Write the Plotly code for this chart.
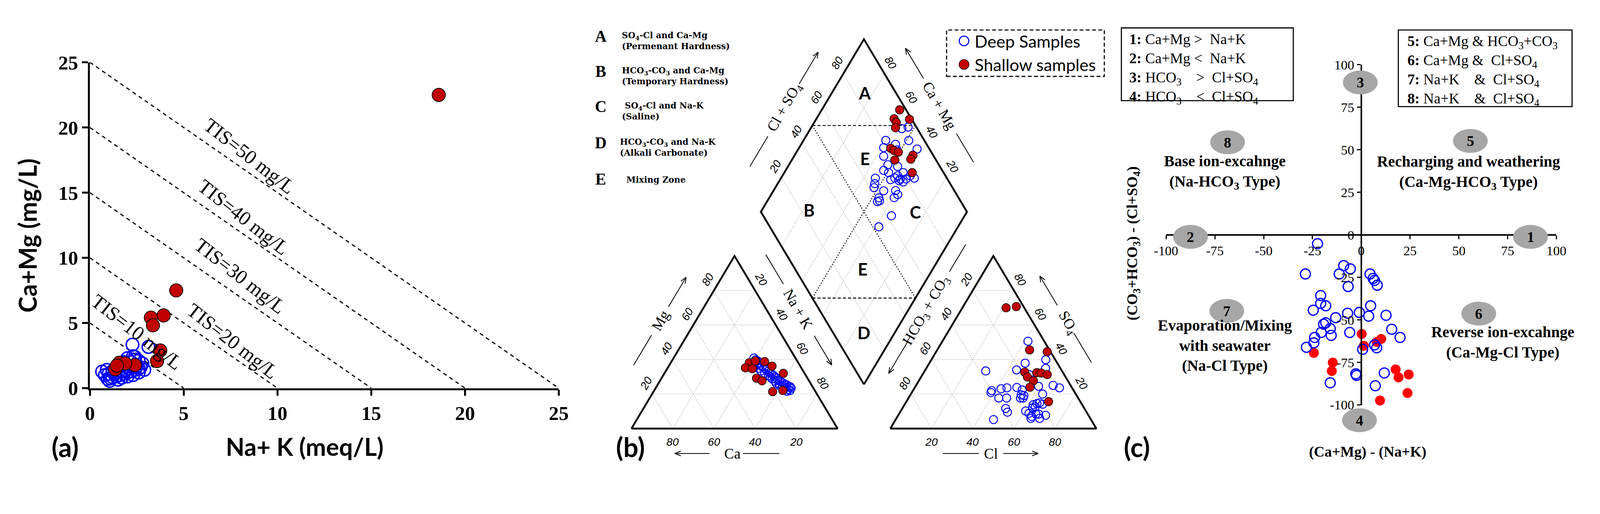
import numpy as np
import plotly.graph_objects as go

# Reference frame is 4342x1317; the page viewport is rendered ~4096 css px wide with 8px body margin.
REF_W, REF_H = 4342, 1317
SC = 4096 / 4342
OFF = 8
WF, HF = 4088, 1234
SERIF = "Liberation Serif"
SANS = "Lato"
BLUE = "#0000ff"
DARKRED = "#c00000"
RED = "#ff0000"

# ======================= DATA =======================
# ---- Panel (a): Na+K vs Ca+Mg ----
a_deep_nak = [0.65, 0.80, 0.95, 1.05, 1.20, 1.30, 1.40, 1.50, 1.60, 1.70, 1.80, 1.90, 2.00, 2.10, 2.20,
              2.30, 2.40, 2.50, 2.60, 2.70, 2.20, 2.40, 2.00, 1.80, 1.60, 1.40, 1.20, 1.00, 2.80, 2.60,
              2.30, 1.90, 1.70, 2.00, 2.30, 2.60, 2.90, 2.27, 3.12, 1.50, 2.40, 1.10, 0.90]
a_deep_camg = [1.27, 1.00, 0.70, 0.55, 0.85, 1.10, 0.90, 1.20, 1.00, 1.30, 1.10, 1.40, 1.20, 1.50, 1.30,
               1.60, 1.40, 1.70, 1.50, 1.60, 2.00, 2.20, 2.30, 2.00, 1.70, 1.50, 1.30, 1.10, 1.90, 2.10,
               2.45, 1.70, 0.80, 0.90, 1.00, 1.20, 1.40, 3.34, 3.16, 0.65, 2.40, 0.75, 1.40]
a_shal_nak = [18.6, 4.6, 3.93, 3.25, 3.36, 3.75, 3.58, 2.40, 1.57, 1.35, 1.88, 1.44]
a_shal_camg = [22.5, 7.5, 5.58, 5.41, 4.82, 2.89, 2.08, 1.77, 1.95, 1.45, 1.90, 1.73]
tis_totals = [5, 10, 15, 20, 25]
tis_labels = ["TIS=10 mg/L", "TIS=20 mg/L", "TIS=30 mg/L", "TIS=40 mg/L", "TIS=50 mg/L"]
tis_label_x = [2.5, 7.6, 8.0, 8.2, 8.5]
tis_label_y = [4.3, 3.6, 8.6, 13.1, 17.8]
a_ticks = [0, 5, 10, 15, 20, 25]

# ---- Panel (b): Piper diagram (percent of meq) ----
cat_deep_ca = [20.1, 19.8, 19.2, 18.9, 20.8, 19.1, 18.7, 20.9, 18.2, 17.7, 20.4, 17.3, 16.8, 19.3, 16.2,
               15.7, 18.2, 15.3, 14.8, 17.3, 14.9, 14.2, 16.6, 13.7, 13.1, 15.5, 12.6, 11.9, 14.2, 11.3,
               10.8, 13.0, 10.8, 12.6, 12.1, 13.7, 14.2, 15.6, 16.7, 17.6]
cat_deep_mg = [40.9, 39.9, 39.2, 38.1, 37.0, 36.7, 35.9, 34.9, 34.9, 34.2, 33.4, 33.1, 32.4, 32.0, 31.7,
               30.9, 30.6, 29.9, 29.2, 28.8, 28.1, 27.7, 27.4, 27.0, 26.3, 25.9, 25.6, 25.2, 24.9, 24.5,
               24.1, 23.8, 23.4, 22.7, 22.0, 21.6, 23.1, 24.9, 26.3, 29.9]
cat_deep_nak = [39.0, 40.3, 41.6, 43.0, 42.2, 44.2, 45.4, 44.2, 46.9, 48.1, 46.2, 49.6, 50.8, 48.7, 52.1,
                53.4, 51.2, 54.8, 56.0, 53.9, 57.0, 58.1, 56.0, 59.3, 60.6, 58.6, 61.8, 62.9, 60.9, 64.2,
                65.1, 63.2, 65.8, 64.7, 65.9, 64.7, 62.7, 59.5, 57.0, 52.5]
cat_shal_ca = [23.8, 20.3, 16.0, 27.1, 24.0, 13.7, 24.7, 22.8, 10.3, 20.8, 15.5]
cat_shal_mg = [38.1, 39.2, 38.8, 35.2, 34.7, 36.2, 29.2, 27.7, 32.0, 21.4, 22.1]
cat_shal_nak = [38.1, 40.5, 45.2, 37.7, 41.3, 50.1, 46.1, 49.5, 57.7, 57.8, 62.4]

an_deep_hco3 = [7.9, 15.6, 4.6, 7.2, 21.7, 37.0, 17.0, 39.8, 34.7, 31.6, 26.7, 24.8, 15.8, 8.5, 6.1,
                16.1, 38.5, 34.7, 26.7, 25.6, 28.0, 23.7, 21.6, 20.1, 19.0, 23.3, 25.0, 38.2, 38.4, 29.2,
                28.3, 27.9, 23.8, 20.8, 24.6, 28.8, 47.3, 40.7, 26.7, 25.1]
an_deep_so4 = [50.6, 37.9, 39.9, 34.9, 34.0, 33.4, 31.3, 22.0, 23.1, 23.6, 23.8, 22.4, 24.5, 25.0, 23.6,
               20.0, 17.7, 17.7, 19.5, 19.1, 17.7, 13.8, 14.5, 14.9, 14.1, 12.7, 12.0, 11.6, 9.5, 10.2,
               8.8, 7.0, 8.4, 7.7, 5.9, 5.9, 5.2, 20.9, 17.7, 8.4]
an_deep_cl = [41.5, 46.5, 55.5, 57.9, 44.3, 29.6, 51.7, 38.2, 42.2, 44.8, 49.5, 52.8, 59.7, 66.5, 70.3,
              63.9, 43.8, 47.6, 53.8, 55.3, 54.3, 62.5, 63.9, 65.0, 66.9, 64.0, 63.0, 50.2, 52.1, 60.6,
              62.9, 65.1, 67.8, 71.5, 69.5, 65.3, 47.5, 38.4, 55.6, 66.5]
an_shal_hco3 = [8.8, 3.5, 9.6, 1.6, 18.4, 18.5, 12.7, 10.7, 8.2, 16.7, 20.2, 15.4]
an_shal_so4 = [70.0, 70.7, 45.6, 44.5, 32.7, 29.9, 32.4, 32.2, 31.3, 27.7, 24.0, 15.6]
an_shal_cl = [21.2, 25.8, 44.8, 53.9, 48.9, 51.6, 54.9, 57.1, 60.5, 55.6, 55.8, 69.0]

dia_deep_camg = [55.7, 53.1, 60.1, 54.2, 48.9, 59.0, 56.5, 51.9, 42.4, 52.0, 52.4, 46.8, 42.3, 49.4, 44.8,
                 41.8, 39.1, 35.3, 54.2, 52.9, 52.1, 46.5, 40.8, 38.6, 39.4, 46.8, 46.4, 35.5, 38.4, 38.0,
                 42.0, 39.6, 45.6, 44.1, 46.3]
dia_deep_clso4 = [92.5, 96.0, 81.3, 84.9, 92.4, 78.2, 75.7, 84.0, 94.0, 75.3, 71.6, 79.5, 80.4, 73.3, 74.8,
                  77.2, 79.9, 84.2, 65.3, 63.4, 61.9, 65.7, 71.5, 71.4, 68.8, 61.3, 59.5, 62.2, 52.9, 82.9,
                  76.1, 77.7, 60.8, 76.8, 72.3]
dia_shal_camg = [62.2, 62.3, 60.2, 54.7, 59.0, 55.4, 53.1, 50.6, 42.6, 42.5, 50.0, 37.9]
dia_shal_clso4 = [96.9, 91.6, 91.6, 98.9, 89.7, 81.4, 82.4, 84.0, 90.2, 88.0, 80.0, 84.8]

piper_ticks = [20, 40, 60, 80]
region_letters = ["A", "E", "B", "C", "E", "D"]
region_camg = [84, 65, 77, 25, 34, 15]
region_clso4 = [85, 66, 24, 75, 33, 15]

# ---- Panel (c): Chadha diagram ----
c_deep_x = [-22.4, -28.6, -9.0, -5.6, -11.3, -6.7, 4.5, 6.1, 6.8, 8.2, -20.8, -20.8, -18.2, -24.6, 4.8,
            -7.0, -1.0, 3.8, 12.7, -13.1, -18.2, -19.3, -15.9, -20.5, -15.4, -5.9, -23.9, -24.3, -28.1, 15.6,
            19.9, 6.8, 7.9, 0.7, -2.8, -2.4, -15.9, 11.8, 7.2]
c_deep_y = [-5.2, -23.0, -18.1, -20.0, -23.0, -30.4, -23.0, -25.6, -26.8, -29.6, -35.7, -40.3, -41.7, -44.3, -41.7,
            -46.1, -45.6, -47.8, -47.3, -48.7, -51.7, -52.5, -55.1, -57.4, -59.1, -57.4, -60.3, -63.5, -66.1, -55.5,
            -60.3, -64.7, -66.4, -67.3, -81.7, -82.6, -87.0, -81.2, -88.7]
c_shal_x = [0.2, 10.2, 7.9, 1.3, -24.3, -14.6, -15.1, 17.6, 19.1, 24.3, 23.7, 9.6]
c_shal_y = [-58.3, -61.2, -63.0, -65.2, -69.4, -75.1, -80.0, -79.1, -83.8, -82.1, -93.0, -97.4]
c_ticks = [-100, -75, -50, -25, 0, 25, 50, 75, 100]
ell_labels = ["1", "2", "3", "4", "5", "6", "7", "8"]
ell_x = [86.7, -87.5, -0.5, -0.9, 55.9, 60.2, -68.9, -68.5]
ell_y = [-1.2, -1.2, 89.6, -109.0, 55.2, -46.3, -44.7, 54.4]


# ======================= HELPERS =======================
def fx(p):
    """reference-pixel x -> paper fraction"""
    return (p * SC - OFF) / WF


def fy(p):
    """reference-pixel y (from top) -> paper fraction"""
    return 1 - (p * SC - OFF) / HF


def S(v):
    return v * SC


def font(family, size, **kw):
    d = dict(family=family, size=S(size), color="black")
    d.update(kw)
    return d


def A(**kw):
    d = dict(showarrow=False, xanchor="center", yanchor="middle")
    d.update(kw)
    return d


fig = go.Figure()
ann = []
shapes = []

# ======================= PANEL (a) =======================
A_L, A_R, A_B, A_T = 214, 1504, 1074, 147
for tot in tis_totals:
    fig.add_trace(go.Scatter(x=[0, tot], y=[tot, 0], mode="lines",
                             line=dict(color="black", width=S(3.2), dash="10px,9px"),
                             xaxis="x", yaxis="y", hoverinfo="skip", showlegend=False))
for lx, ly, lt in zip(tis_label_x, tis_label_y, tis_labels):
    ann.append(A(x=lx, y=ly, xref="x", yref="y", text=lt, textangle=38, font=font(SERIF, 54)))
fig.add_trace(go.Scatter(x=a_deep_nak, y=a_deep_camg, mode="markers", xaxis="x", yaxis="y",
                         marker=dict(symbol="circle-open", size=S(34), color=BLUE, line=dict(width=S(4))),
                         cliponaxis=False, showlegend=False))
fig.add_trace(go.Scatter(x=a_shal_nak, y=a_shal_camg, mode="markers", xaxis="x", yaxis="y",
                         marker=dict(symbol="circle", size=S(36), color=DARKRED,
                                     line=dict(width=S(2), color="black")),
                         cliponaxis=False, showlegend=False))
ann.append(A(x=fx(805), y=fy(1240), xref="paper", yref="paper", text="Na+ K (meq/L)",
             font=font(SANS, 66, weight="bold")))
ann.append(A(x=fx(42), y=fy(640), xref="paper", yref="paper", text="Ca+Mg (mg/L)",
             textangle=-90, font=font(SANS, 66, weight="bold")))
ann.append(A(x=fx(145), y=fy(1240), xref="paper", yref="paper", text="(a)", font=font(SANS, 72, weight="bold")))

# ======================= PANEL (b) =======================
P0X, P0Y, SIDE = 1704, 1189, 567
S3 = np.sqrt(3) / 2
G = 0.256
BX0, BX1, BY_TOP, BY_BOT = 1560, 3040, 20, 1300


def u_of(px):
    return (px - P0X) / SIDE


def v_of(py):
    return (P0Y - py) / SIDE


def cat_xy(ca, mg, nak):
    ca, mg, nak = (np.asarray(v, dtype=float) for v in (ca, mg, nak))
    tot = ca + mg + nak
    m, n = mg / tot, nak / tot
    return n + m / 2, m * S3


def an_xy(hco3, so4, cl):
    hco3, so4, cl = (np.asarray(v, dtype=float) for v in (hco3, so4, cl))
    tot = hco3 + so4 + cl
    s, c = so4 / tot, cl / tot
    return 1 + G + c + s / 2, s * S3


def dia_xy(camg, clso4):
    a = np.asarray(camg, dtype=float) / 100
    c = np.asarray(clso4, dtype=float) / 100
    return 1 + G / 2 + 0.5 * (c - a), G * S3 + S3 * (c + a)


def seg_trace(segs, **line):
    xs, ys = [], []
    for (x0, y0), (x1, y1) in segs:
        xs += [float(x0), float(x1), None]
        ys += [float(y0), float(y1), None]
    return go.Scatter(x=xs, y=ys, mode="lines", line=line, xaxis="x2", yaxis="y2",
                      hoverinfo="skip", showlegend=False, cliponaxis=False)


diag_segs, horiz_segs = [], []
for k in piper_ticks:
    horiz_segs.append((cat_xy(100 - k, k, 0), cat_xy(0, k, 100 - k)))
    diag_segs.append((cat_xy(100 - k, 0, k), cat_xy(0, 100 - k, k)))
    diag_segs.append((cat_xy(k, 0, 100 - k), cat_xy(k, 100 - k, 0)))
    horiz_segs.append((an_xy(100 - k, k, 0), an_xy(0, k, 100 - k)))
    diag_segs.append((an_xy(100 - k, 0, k), an_xy(0, 100 - k, k)))
    diag_segs.append((an_xy(k, 0, 100 - k), an_xy(k, 100 - k, 0)))
    diag_segs.append((dia_xy(k, 0), dia_xy(k, 100)))
    diag_segs.append((dia_xy(0, k), dia_xy(100, k)))
fig.add_trace(seg_trace(horiz_segs, color="#e2e2e2", width=S(2)))
fig.add_trace(seg_trace(diag_segs, color="#b0b0b0", width=S(1.5), dash="3px,3px"))

fig.add_trace(seg_trace([(dia_xy(100, 50), dia_xy(50, 100)), (dia_xy(50, 0), dia_xy(0, 50))],
                        color="black", width=S(2.5), dash="8px,5px"))
fig.add_trace(seg_trace([(dia_xy(100, 50), dia_xy(0, 50)), (dia_xy(50, 100), dia_xy(50, 0))],
                        color="black", width=S(2.5), dash="3px,4px"))


def closed(pts):
    xs = [float(p[0]) for p in pts] + [float(pts[0][0])]
    ys = [float(p[1]) for p in pts] + [float(pts[0][1])]
    return go.Scatter(x=xs, y=ys, mode="lines", line=dict(color="black", width=S(5)), xaxis="x2", yaxis="y2",
                      hoverinfo="skip", showlegend=False, cliponaxis=False)


fig.add_trace(closed([cat_xy(100, 0, 0), cat_xy(0, 0, 100), cat_xy(0, 100, 0)]))
fig.add_trace(closed([an_xy(100, 0, 0), an_xy(0, 0, 100), an_xy(0, 100, 0)]))
fig.add_trace(closed([dia_xy(0, 0), dia_xy(0, 100), dia_xy(100, 100), dia_xy(100, 0)]))

deep_m = dict(symbol="circle-open", size=S(22), color=BLUE, line=dict(width=S(2.5)))
shal_m = dict(symbol="circle", size=S(23), color=DARKRED, line=dict(width=S(1.5), color="black"))
for (fn, args_d, args_s) in [
    (cat_xy, (cat_deep_ca, cat_deep_mg, cat_deep_nak), (cat_shal_ca, cat_shal_mg, cat_shal_nak)),
    (an_xy, (an_deep_hco3, an_deep_so4, an_deep_cl), (an_shal_hco3, an_shal_so4, an_shal_cl)),
    (dia_xy, (dia_deep_camg, dia_deep_clso4), (dia_shal_camg, dia_shal_clso4)),
]:
    xd, yd = fn(*args_d)
    xs_, ys_ = fn(*args_s)
    fig.add_trace(go.Scatter(x=xd, y=yd, mode="markers", marker=deep_m, xaxis="x2", yaxis="y2",
                             showlegend=False, cliponaxis=False))
    fig.add_trace(go.Scatter(x=xs_, y=ys_, mode="markers", marker=shal_m, xaxis="x2", yaxis="y2",
                             showlegend=False, cliponaxis=False))

TF = font("Liberation Sans", 30)
for k in piper_ticks:
    spots = [
        (cat_xy(k, 0, 100 - k), (0, -0.067), 0),
        (cat_xy(100 - k, k, 0), (-0.03, 0.055), -60),
        (cat_xy(0, 100 - k, k), (0.03, 0.055), 60),
        (an_xy(100 - k, 0, k), (0, -0.067), 0),
        (an_xy(k, 100 - k, 0), (-0.03, 0.055), -60),
        (an_xy(0, k, 100 - k), (0.03, 0.055), 60),
        (dia_xy(100, k), (-0.03, 0.055), -60),
        (dia_xy(k, 100), (0.03, 0.055), 60),
    ]
    for (px_, py_), (dx, dy), ang in spots:
        d = A(x=float(px_) + dx, y=float(py_) + dy, xref="x2", yref="y2", text="<i>%d</i>" % k, font=TF)
        if ang:
            d["textangle"] = ang
        ann.append(d)

rx, ry = dia_xy(region_camg, region_clso4)
for L, x_, y_ in zip(region_letters, rx, ry):
    ann.append(A(x=float(x_), y=float(y_), xref="x2", yref="y2", text=L, font=font(SANS, 46, weight="bold")))

edges = {
    "cat_left": ((0, 0), (0.5, S3), (-S3, 0.5)),
    "cat_right": ((0.5, S3), (0.5, -S3), (S3, 0.5)),
    "cat_bottom": ((0, 0), (1, 0), (0, -1)),
    "an_left": ((1 + G, 0), (0.5, S3), (-S3, 0.5)),
    "an_right": ((2 + G, 0), (-0.5, S3), (S3, 0.5)),
    "an_bottom": ((1 + G, 0), (1, 0), (0, -1)),
    "dia_ul": ((0.5 + G / 2, (1 + G) * S3), (0.5, S3), (-S3, 0.5)),
    "dia_ur": ((1.5 + G / 2, (1 + G) * S3), (-0.5, S3), (S3, 0.5)),
}
titles = [
    ("cat_left", "Mg", -60, (0.28, 0.455), 0.54, (0.62, 0.79), 0.15),
    ("cat_right", "Na + K", 60, (0.07, 0.24), 0.385, (0.54, 0.71), 0.135),
    ("cat_bottom", "Ca", 0, (0.541, 0.718), 0.489, (0.379, 0.21), 0.125),
    ("an_left", "HCO<sub>3</sub> + CO<sub>3</sub>", -60, (0.825, 0.983), 0.60, (0.417, 0.236), 0.145),
    ("an_right", "SO<sub>4</sub>", 60, (0.30, 0.47), 0.53, (0.63, 0.80), 0.145),
    ("an_bottom", "Cl", 0, (0.254, 0.43), 0.489, (0.548, 0.718), 0.125),
    ("dia_ul", "Cl + SO<sub>4</sub>", -60, (0.17, 0.345), 0.512, (0.648, 0.833), 0.16),
    ("dia_ur", "Ca + Mg", 60, (0.20, 0.365), 0.527, (0.685, 0.86), 0.152),
]


def along(edge, t, n):
    (ox, oy), (dx, dy), (nx, ny) = edges[edge]
    return ox + dx * t + nx * n, oy + dy * t + ny * n


def arrow_segs(tail, head, L=0.032, ang=22):
    dx, dy = head[0] - tail[0], head[1] - tail[1]
    nn = np.hypot(dx, dy)
    dx, dy = dx / nn, dy / nn
    out = [(tail, head)]
    for sgn in (1, -1):
        a = np.radians(ang * sgn)
        rx_ = dx * np.cos(a) - dy * np.sin(a)
        ry_ = dx * np.sin(a) + dy * np.cos(a)
        out.append((head, (head[0] - L * rx_, head[1] - L * ry_)))
    return out


line_segs = []
for edge, txt, ang, (l0, l1), tt, (a0, a1), n in titles:
    line_segs.append((along(edge, l0, n), along(edge, l1, n)))
    line_segs += arrow_segs(along(edge, a0, n), along(edge, a1, n))
    tx, ty = along(edge, tt, n)
    d = A(x=tx, y=ty, xref="x2", yref="y2", text=txt, font=font(SERIF, 40))
    if ang:
        d["textangle"] = ang
    ann.append(d)
fig.add_trace(seg_trace(line_segs, color="black", width=S(2.2)))

# left text block of (b)
blk_letters = ["A", "B", "C", "D", "E"]
blk_y = [73, 173, 273, 376, 479]
blk_text = [
    ("SO<sub>4</sub>-Cl and Ca-Mg<br>(Permenant Hardness)", 1675, 86),
    ("HCO<sub>3</sub>-CO<sub>3</sub> and Ca-Mg<br>(Temporary Hardness)", 1675, 186),
    ("\u00a0SO<sub>4</sub>-Cl and Na-K<br>(Saline)", 1675, 286),
    ("HCO<sub>3</sub>-CO<sub>3</sub> and Na-K<br>(Alkali Carbonate)", 1670, 389),
    ("\u00a0Mixing Zone", 1680, 481),
]
for L, yy in zip(blk_letters, blk_y):
    ann.append(A(x=fx(1620), y=fy(yy), xref="paper", yref="paper", text="<b>%s</b>" % L, font=font(SERIF, 44)))
for txt, lx, ly in blk_text:
    ann.append(A(x=fx(lx), y=fy(ly), xref="paper", yref="paper", xanchor="left", align="left",
                 text="<b>%s</b>" % txt, font=font("DejaVu Serif", 23)))

# legend box of (b)
shapes.append(dict(type="rect", xref="paper", yref="paper", x0=fx(2571), x1=fx(3005), y0=fy(187), y1=fy(55),
                   line=dict(color="black", width=S(3), dash="10px,6px")))
fig.add_trace(go.Scatter(x=[u_of(2619)], y=[v_of(86)], mode="markers", xaxis="x2", yaxis="y2",
                         marker=dict(symbol="circle-open", size=S(26), color=BLUE, line=dict(width=S(3))),
                         showlegend=False, cliponaxis=False))
fig.add_trace(go.Scatter(x=[u_of(2619)], y=[v_of(153)], mode="markers", xaxis="x2", yaxis="y2",
                         marker=dict(symbol="circle", size=S(27), color=DARKRED,
                                     line=dict(width=S(1.5), color="black")),
                         showlegend=False, cliponaxis=False))
ann.append(A(x=fx(2646), y=fy(86), xref="paper", yref="paper", xanchor="left", text="Deep Samples",
             font=font(SANS, 46)))
ann.append(A(x=fx(2646), y=fy(153), xref="paper", yref="paper", xanchor="left", text="Shallow samples",
             font=font(SANS, 46)))
ann.append(A(x=fx(1701), y=fy(1240), xref="paper", yref="paper", text="(b)", font=font(SANS, 72, weight="bold")))

# ======================= PANEL (c) =======================
C_L, C_R, C_B, C_T = 3175, 4249, 1121.8, 153.8
C_X0PX = (C_L + C_R) / 2
C_Y0PX = (C_B + C_T) / 2


def cpx(x):
    return C_L + (x + 100) / 200 * (C_R - C_L)


def cpy(y):
    return C_B - (y + 100) / 200 * (C_B - C_T)


for lab, ex, ey in zip(ell_labels, ell_x, ell_y):
    cx, cy = cpx(ex), cpy(ey)
    shapes.append(dict(type="circle", xref="paper", yref="paper", x0=fx(cx - 48), x1=fx(cx + 48),
                       y0=fy(cy + 34), y1=fy(cy - 34), fillcolor="#a6a6a6", line=dict(width=0), layer="above"))
    ann.append(A(x=fx(cx), y=fy(cy), xref="paper", yref="paper", text="<b>%s</b>" % lab, font=font(SERIF, 40)))

fig.add_trace(go.Scatter(x=c_shal_x, y=c_shal_y, mode="markers", xaxis="x3", yaxis="y3",
                         marker=dict(symbol="circle", size=S(27), color=RED, line=dict(width=0)),
                         showlegend=False, cliponaxis=False))
fig.add_trace(go.Scatter(x=c_deep_x, y=c_deep_y, mode="markers", xaxis="x3", yaxis="y3",
                         marker=dict(symbol="circle-open", size=S(27), color=BLUE, line=dict(width=S(3.5))),
                         showlegend=False, cliponaxis=False))

quad_text = [
    ("Base ion-excahnge<br>(Na-HCO<sub>3</sub> Type)", -70.0, 36.7),
    ("Recharging and weathering<br>(Ca-Mg-HCO<sub>3</sub> Type)", 55.0, 36.6),
    ("Evaporation/Mixing<br>with seawater<br>(Na-Cl Type)", -69.9, -65.0),
    ("Reverse ion-excahnge<br>(Ca-Mg-Cl Type)", 72.5, -63.2),
]
for txt, qx, qy in quad_text:
    ann.append(A(x=qx, y=qy, xref="x3", yref="y3", text="<b>%s</b>" % txt, font=font(SERIF, 42)))

shapes.append(dict(type="rect", xref="paper", yref="paper", x0=fx(3052), x1=fx(3525), y0=fy(256), y1=fy(49),
                   line=dict(color="black", width=S(3))))
shapes.append(dict(type="rect", xref="paper", yref="paper", x0=fx(3814), x1=fx(4292), y0=fy(273), y1=fy(55),
                   line=dict(color="black", width=S(3))))
nb = "\u00a0"
box1 = "<br>".join([
    "<b>1:</b> Ca+Mg &gt;" + nb * 2 + "Na+K",
    "<b>2:</b> Ca+Mg &lt;" + nb * 2 + "Na+K",
    "<b>3:</b> HCO<sub>3</sub>" + nb * 4 + "&gt;" + nb * 2 + "Cl+SO<sub>4</sub>",
    "<b>4:</b> HCO<sub>3</sub>" + nb * 4 + "&lt;" + nb * 2 + "Cl+SO<sub>4</sub>",
])
box2 = "<br>".join([
    "<b>5:</b> Ca+Mg &amp; HCO<sub>3</sub>+CO<sub>3</sub>",
    "<b>6:</b> Ca+Mg &amp;" + nb * 2 + "Cl+SO<sub>4</sub>",
    "<b>7:</b> Na+K" + nb * 4 + "&amp;" + nb * 2 + "Cl+SO<sub>4</sub>",
    "<b>8:</b> Na+K" + nb * 4 + "&amp;" + nb * 2 + "Cl+SO<sub>4</sub>",
])
ann.append(A(x=fx(3072), y=fy(166), xref="paper", yref="paper", xanchor="left", align="left", text=box1,
             font=font(SERIF, 40)))
ann.append(A(x=fx(3837), y=fy(171), xref="paper", yref="paper", xanchor="left", align="left", text=box2,
             font=font(SERIF, 40)))

ann.append(A(x=fx(3730), y=fy(1255), xref="paper", yref="paper", text="<b>(Ca+Mg) - (Na+K)</b>",
             font=font(SERIF, 40)))
ann.append(A(x=fx(3084), y=fy(662), xref="paper", yref="paper", textangle=-90,
             text="<b>(CO<sub>3</sub>+HCO<sub>3</sub>) - (Cl+SO<sub>4</sub>)</b>", font=font(SERIF, 40)))
ann.append(A(x=fx(3095), y=fy(1240), xref="paper", yref="paper", text="(c)", font=font(SANS, 72, weight="bold")))

c_ticktext = [str(t) for t in c_ticks]

# ======================= LAYOUT =======================
fig.update_layout(
    width=WF, height=HF, margin=dict(l=0, r=0, t=0, b=0),
    paper_bgcolor="white", plot_bgcolor="rgba(0,0,0,0)", showlegend=False,
    xaxis=dict(domain=[fx(A_L), fx(A_R)], range=[0, 25], anchor="y", tickvals=a_ticks,
               showline=True, linecolor="black", linewidth=S(5), ticks="outside", ticklen=S(16), tickwidth=S(5),
               tickcolor="black", showgrid=False, zeroline=False,
               tickfont=font(SERIF, 54, weight="bold")),
    yaxis=dict(domain=[fy(A_B), fy(A_T)], range=[0, 25], anchor="x", tickvals=a_ticks,
               showline=True, linecolor="black", linewidth=S(5), ticks="outside", ticklen=S(16), tickwidth=S(5),
               tickcolor="black", showgrid=False, zeroline=False,
               tickfont=font(SERIF, 54, weight="bold")),
    xaxis2=dict(domain=[fx(BX0), fx(BX1)], range=[u_of(BX0), u_of(BX1)], anchor="y2", visible=False),
    yaxis2=dict(domain=[fy(BY_BOT), fy(BY_TOP)], range=[v_of(BY_BOT), v_of(BY_TOP)], anchor="x2", visible=False),
    xaxis3=dict(domain=[fx(C_L), fx(C_R)], range=[-100, 100], anchor="free", position=fy(C_Y0PX),
                tickvals=c_ticks, ticktext=c_ticktext, showline=True, linecolor="black", linewidth=S(4),
                ticks="outside", ticklen=S(10), tickwidth=S(3), tickcolor="black", showgrid=False, zeroline=False,
                tickfont=font(SERIF, 36)),
    yaxis3=dict(domain=[fy(C_B), fy(C_T)], range=[-100, 100], anchor="free", position=fx(C_X0PX),
                tickvals=c_ticks, ticktext=c_ticktext, showline=True, linecolor="black", linewidth=S(4),
                ticks="outside", ticklen=S(10), tickwidth=S(3), tickcolor="black", showgrid=False, zeroline=False,
                tickfont=font(SERIF, 36)),
    annotations=ann, shapes=shapes,
)

fig.write_html("out.html")
